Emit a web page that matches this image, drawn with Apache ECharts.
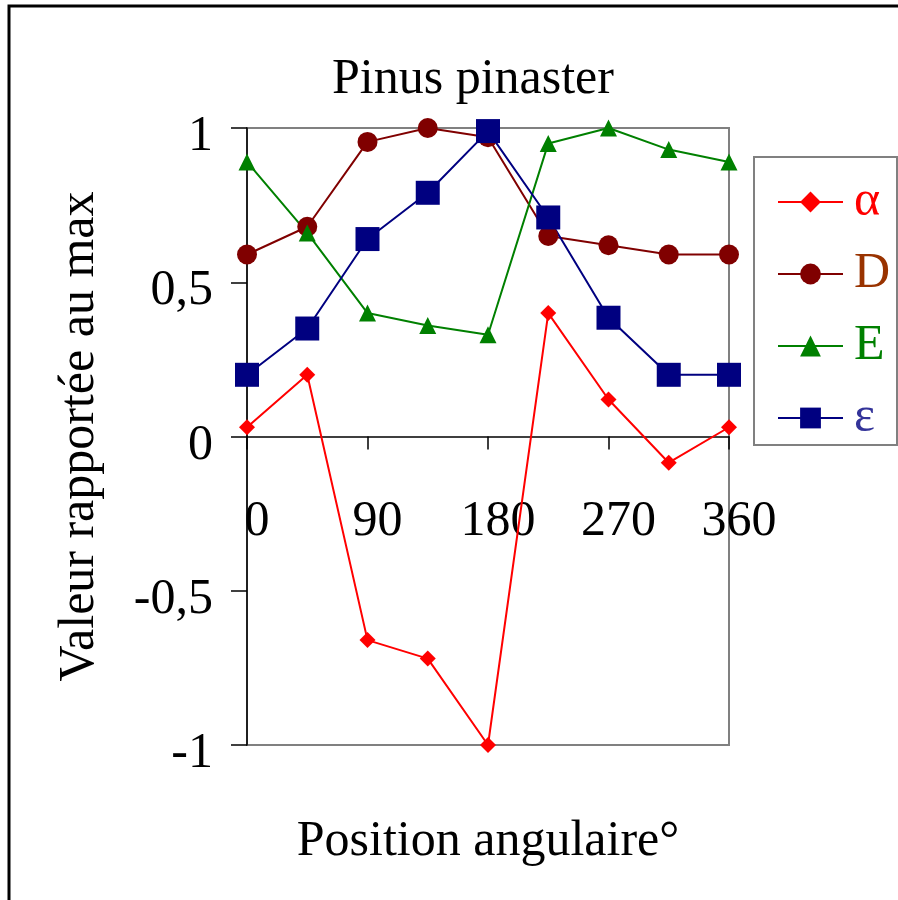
<!DOCTYPE html>
<html lang="fr">
<head>
    <meta charset="UTF-8">
    <title>Pinus pinaster</title>
    <script src="https://cdn.jsdelivr.net/npm/echarts@6/dist/echarts.min.js"></script>
    <style>
        html, body { margin: 0; padding: 0; background: #fff; }
        #main { width: 898px; height: 900px; }
    </style>
</head>
<body>
<div id="main"></div>
<script>
    // positions angulaires (degrés)
    var angles = [0, 45, 90, 135, 180, 225, 270, 315, 360];
    // valeurs rapportées au max
    var alpha = [0.03, 0.20, -0.66, -0.72, -1.00, 0.40, 0.12, -0.085, 0.03];
    var D = [0.59, 0.68, 0.955, 1.00, 0.97, 0.65, 0.62, 0.59, 0.59];
    var E = [0.89, 0.66, 0.40, 0.36, 0.33, 0.95, 1.00, 0.93, 0.89];
    var epsilon = [0.20, 0.35, 0.64, 0.79, 0.99, 0.71, 0.385, 0.20, 0.20];

    var font = '"Liberation Serif", "DejaVu Serif", serif';
    var fs = 50;

    function pairs(vals) {
        var out = [];
        for (var i = 0; i < angles.length; i++) {
            out.push([angles[i], vals[i]]);
        }
        return out;
    }

    function serie(name, vals, color, symbol, size) {
        return {
            name: name,
            type: 'line',
            data: pairs(vals),
            symbol: symbol,
            symbolSize: size,
            clip: false,
            lineStyle: { color: color, width: 2 },
            itemStyle: { color: color },
            emphasis: { disabled: true }
        };
    }

    var myChart = echarts.init(document.getElementById('main'));
    var option = {
        animation: false,
        backgroundColor: '#fff',
        title: {
            text: 'Pinus pinaster',
            left: 468,
            top: 50,
            textAlign: 'center',
            textStyle: { fontFamily: font, fontSize: fs, fontWeight: 'normal', color: '#000' }
        },
        grid: {
            left: 247,
            right: 169,
            top: 128,
            bottom: 155,
            show: true,
            borderColor: '#808080',
            borderWidth: 2,
            containLabel: false,
            outerBoundsMode: 'none'
        },
        legend: {
            orient: 'vertical',
            left: 772,
            top: 172,
            itemWidth: 65,
            itemHeight: 26,
            itemGap: 22,
            selectedMode: false,
            data: [
                { name: 'α', textStyle: { color: '#ff0000' } },
                { name: 'D', textStyle: { color: '#993300' } },
                { name: 'E', textStyle: { color: '#008000' } },
                { name: 'ε', textStyle: { color: '#333399' } }
            ],
            textStyle: { fontFamily: font, fontSize: fs, lineHeight: 50, padding: [0, 0, 0, 6] }
        },
        xAxis: {
            type: 'value',
            min: 0,
            max: 360,
            interval: 90,
            name: 'Position angulaire°',
            nameLocation: 'middle',
            nameGap: 72,
            nameTextStyle: { fontFamily: font, fontSize: fs, color: '#000' },
            axisLine: { onZero: true, lineStyle: { color: '#000', width: 1.5 } },
            axisTick: { show: true, length: 13, lineStyle: { color: '#000', width: 1.5 } },
            axisLabel: {
                margin: -248,
                padding: [0, 0, 0, 20],
                fontFamily: font,
                fontSize: fs,
                color: '#000'
            },
            splitLine: { show: false }
        },
        yAxis: {
            type: 'value',
            min: -1,
            max: 1,
            interval: 0.5,
            name: 'Valeur rapportée au max',
            nameLocation: 'middle',
            nameGap: 142,
            nameTextStyle: { fontFamily: font, fontSize: fs, color: '#000' },
            axisLine: { show: true, lineStyle: { color: '#000', width: 1.5 } },
            axisTick: { show: true, length: 16, lineStyle: { color: '#000', width: 1.5 } },
            axisLabel: {
                margin: 34,
                formatter: function (v) {
                    return '{v|' + String(v).replace('.', ',') + '}';
                },
                rich: {
                    v: {
                        fontFamily: font,
                        fontSize: fs,
                        color: '#000',
                        padding: [18, 0, 0, 0]
                    }
                }
            },
            splitLine: { show: false }
        },
        graphic: [
            {
                type: 'polyline',
                shape: { points: [[9, 900], [9, 6], [898, 6]] },
                style: { stroke: '#000', lineWidth: 3, fill: null },
                silent: true
            },
            {
                type: 'rect',
                shape: { x: 754, y: 157, width: 143, height: 288 },
                style: { stroke: '#808080', lineWidth: 2, fill: null },
                silent: true
            }
        ],
        series: [
            serie('α', alpha, '#ff0000', 'diamond', 16),
            serie('D', D, '#800000', 'circle', 20),
            serie('E', E, '#008000', 'triangle', 17),
            serie('ε', epsilon, '#000080', 'rect', 24)
        ]
    };
    myChart.setOption(option);
</script>
</body>
</html>
